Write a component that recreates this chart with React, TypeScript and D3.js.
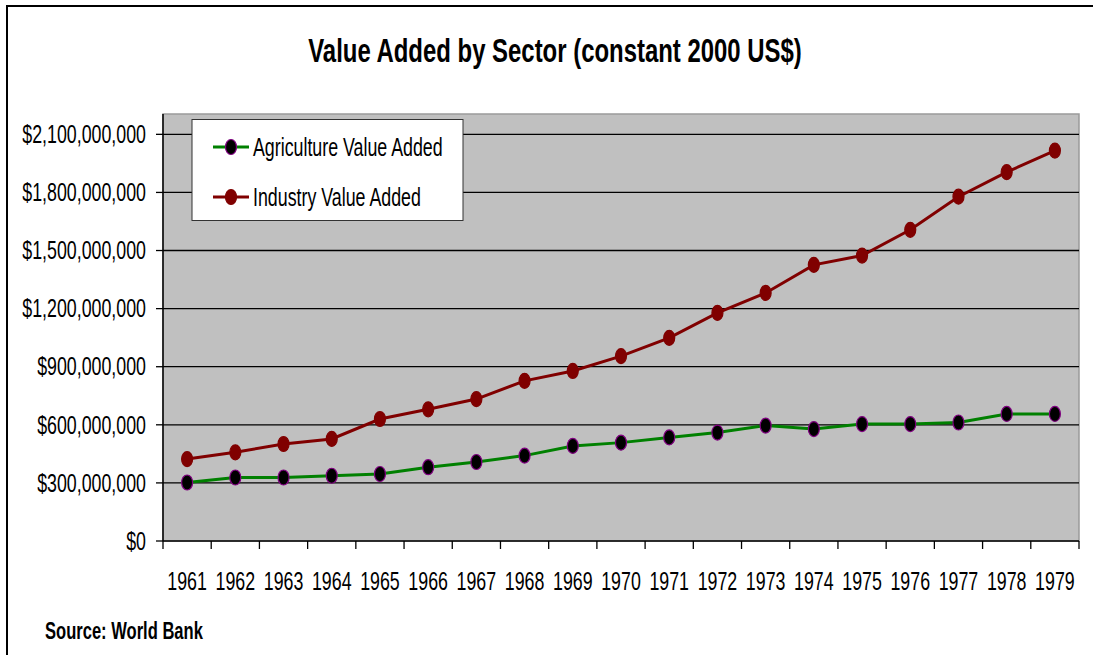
import React from "react";
import * as d3 from "d3";

const years = ["1961","1962","1963","1964","1965","1966","1967","1968","1969","1970","1971","1972","1973","1974","1975","1976","1977","1978","1979"];
const agriculture = [302e6,328e6,328e6,337e6,346e6,381e6,408e6,441e6,491e6,508e6,535e6,560e6,596e6,578e6,604e6,604e6,612e6,656e6,656e6];
const industry = [423e6,458e6,501e6,527e6,630e6,680e6,733e6,827e6,878e6,955e6,1049e6,1178e6,1281e6,1426e6,1474e6,1607e6,1778e6,1905e6,2016e6];
const yTicks = [0,300e6,600e6,900e6,1200e6,1500e6,1800e6,2100e6];
const seriesNames = ["Agriculture Value Added","Industry Value Added"];

const W = 1093, H = 655;
const L = 163, R = 1079, T = 114, B = 541;
const SX = 0.685;
const FONT = "'Liberation Sans', Arial, sans-serif";

export default function App() {
  const x = d3.scaleBand<string>().domain(years).range([L, R]).padding(0);
  const y = d3.scaleLinear().domain([0, 2.205e9]).range([B, T]);
  const fmt = (v: number) => "$" + d3.format(",")(v);
  const line = d3.line<number>().x((_, i) => (x(years[i]) as number) + x.bandwidth() / 2).y(d => y(d));
  const series = [
    { name: seriesNames[0], data: agriculture, color: "#008000", fill: "#000000", stroke: "#800080" },
    { name: seriesNames[1], data: industry, color: "#800000", fill: "#800000", stroke: "#800000" },
  ];
  const bounds = years.map(yr => x(yr) as number).concat([R]);

  return (
    <svg width={W} height={H} style={{ position: "absolute", left: 0, top: 0, display: "block" }} fontFamily={FONT}>
      <rect x={0} y={0} width={W} height={H} fill="#fff" />
      <path d={`M7,${H} L7,6 L${W},6`} fill="none" stroke="#000" strokeWidth={2} />
      <text transform={`translate(555,62) scale(0.725,1)`} textAnchor="middle" fontSize={33} fontWeight="bold" fill="#000">
        Value Added by Sector (constant 2000 US$)
      </text>
      <rect x={L} y={T} width={R - L} height={B - T} fill="#C0C0C0" stroke="#9a9a9a" strokeWidth={1.5} />
      {yTicks.filter(v => v > 0).map(v => (
        <line key={"g" + v} x1={L} x2={R} y1={y(v)} y2={y(v)} stroke="#000" strokeWidth={1.3} />
      ))}
      <line x1={L} x2={L} y1={T} y2={B} stroke="#000" strokeWidth={1.5} />
      <line x1={L} x2={R} y1={B} y2={B} stroke="#000" strokeWidth={1.5} />
      {yTicks.map(v => (
        <g key={"t" + v}>
          <line x1={L - 7} x2={L} y1={y(v)} y2={y(v)} stroke="#000" strokeWidth={1.3} />
          <text transform={`translate(146,${y(v)}) scale(${SX},1)`} textAnchor="end" dominantBaseline="central" fontSize={26} fill="#000">
            {fmt(v)}
          </text>
        </g>
      ))}
      {bounds.map((bx, i) => (
        <line key={"xt" + i} x1={bx} x2={bx} y1={B} y2={B + 8} stroke="#000" strokeWidth={1.3} />
      ))}
      {years.map(yr => (
        <text key={"yl" + yr} transform={`translate(${(x(yr) as number) + x.bandwidth() / 2},${581}) scale(${SX},1)`} textAnchor="middle" dominantBaseline="central" fontSize={26} fill="#000">
          {yr}
        </text>
      ))}
      {series.map(s => (
        <g key={s.name}>
          <path d={line(s.data) || ""} fill="none" stroke={s.color} strokeWidth={3} />
          {s.data.map((v, i) => (
            <ellipse key={i} cx={(x(years[i]) as number) + x.bandwidth() / 2} cy={y(v)} rx={5.5} ry={7.5} fill={s.fill} stroke={s.stroke} strokeWidth={1.2} />
          ))}
        </g>
      ))}
      <rect x={192} y={119.5} width={271} height={101} fill="#fff" stroke="#333" strokeWidth={1} />
      {series.map((s, i) => {
        const cy = 147 + i * 50;
        return (
          <g key={"lg" + i}>
            <line x1={213} x2={249} y1={cy} y2={cy} stroke={s.color} strokeWidth={3} />
            <ellipse cx={231} cy={cy} rx={5.5} ry={7.5} fill={s.fill} stroke={s.stroke} strokeWidth={1.2} />
            <text transform={`translate(253,${cy}) scale(${SX},1)`} dominantBaseline="central" fontSize={26} fill="#000">
              {s.name}
            </text>
          </g>
        );
      })}
      <text transform={`translate(45,630) scale(0.69,1)`} dominantBaseline="central" fontSize={24} fontWeight="bold" fill="#000">
        Source: World Bank
      </text>
    </svg>
  );
}
